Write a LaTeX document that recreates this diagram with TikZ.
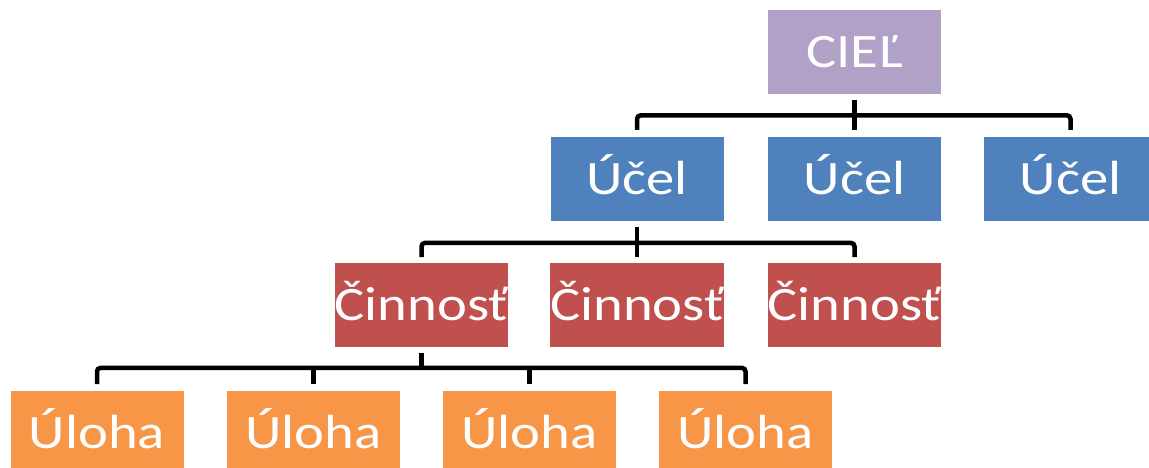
\documentclass[tikz,border=0pt]{standalone}
\usepackage{graphicx}
\usepackage{fontspec}
\setmainfont{Carlito}
\definecolor{lav}{RGB}{178,161,199}
\definecolor{blu}{RGB}{79,129,189}
\definecolor{rd}{RGB}{192,80,77}
\definecolor{org}{RGB}{247,150,70}
\newcommand{\lbl}[1]{\scalebox{1.18}[1]{#1}}
\begin{document}
\begin{tikzpicture}[x=1pt,y=-1pt,
  box/.style={rectangle, draw=none, minimum width=173pt, minimum height=83.5pt,
    inner sep=0pt, text=white, font=\fontsize{48}{48}\selectfont,
    text height=30.5pt, text depth=0pt, anchor=north},
  conn/.style={draw=black, line width=4.5pt, rounded corners=3.5pt}]
\useasboundingbox (0,0) rectangle (1149,468);
\clip (0,0) rectangle (1149,468);
% row 1
\node[box, fill=lav] (cie) at (854.5,10) {\lbl{CIEĽ}};
% row 2
\node[box, fill=blu] (u1) at (637,137) {\lbl{Účel}};
\node[box, fill=blu] (u2) at (854.5,137) {\lbl{Účel}};
\node[box, fill=blu] (u3) at (1070.5,137) {\lbl{Účel}};
% row 3
\node[box, fill=rd] (c1) at (421.5,263) {\lbl{Činnosť}};
\node[box, fill=rd] (c2) at (637,263) {\lbl{Činnosť}};
\node[box, fill=rd] (c3) at (854.5,263) {\lbl{Činnosť}};
% row 4
\node[box, fill=org] (l1) at (97,391) {\lbl{Úloha}};
\node[box, fill=org] (l2) at (313.5,391) {\lbl{Úloha}};
\node[box, fill=org] (l3) at (529.5,391) {\lbl{Úloha}};
\node[box, fill=org] (l4) at (745.5,391) {\lbl{Úloha}};
% connectors 1 -> 2
\draw[conn] ([yshift=7pt]u1.north) |- ([yshift=-21.5pt]cie.south) -| ([yshift=7pt]u3.north);
\draw[conn] ([yshift=-6pt]cie.south) -- ([yshift=7pt]u2.north);
% connectors 2 -> 3
\draw[conn] ([yshift=6pt]c1.north) |- ([yshift=-22pt]u1.south) -| ([yshift=6pt]c3.north);
\draw[conn] ([yshift=-6pt]u1.south) -- ([yshift=6pt]c2.north);
% connectors 3 -> 4
\draw[conn] ([yshift=7pt]l1.north) |- ([yshift=-21pt]c1.south) -| ([yshift=7pt]l4.north);
\draw[conn] ([yshift=7pt]l2.north) -- ([yshift=-21pt]l2.north |- c1.south);
\draw[conn] ([yshift=7pt]l3.north) -- ([yshift=-21pt]l3.north |- c1.south);
\draw[conn] ([yshift=-6pt]c1.south) -- ([yshift=-21pt]c1.south);
\end{tikzpicture}
\end{document}
